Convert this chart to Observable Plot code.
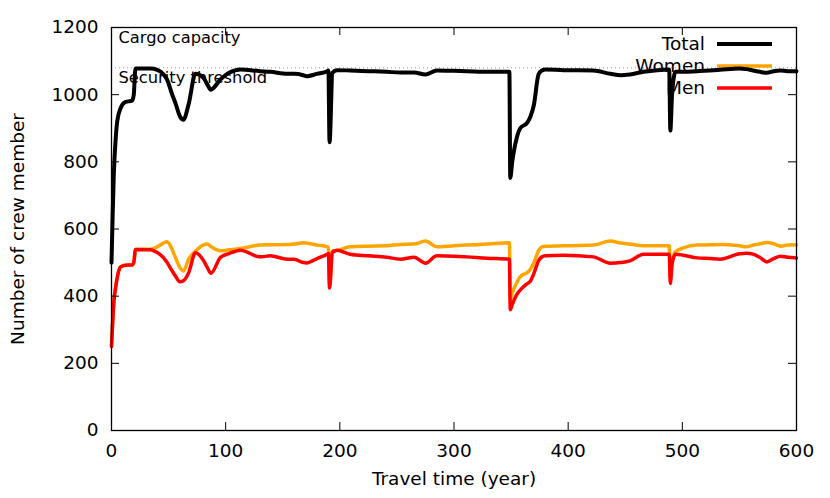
<!DOCTYPE html>
<html>
<head>
<meta charset="utf-8">
<script src="https://cdn.jsdelivr.net/npm/d3@7"></script>
<script src="https://cdn.jsdelivr.net/npm/@observablehq/plot@0.6"></script>
<style>
  html, body { margin: 0; padding: 0; background: #ffffff; }
  #chart svg { display: block; }
</style>
</head>
<body>
<div id="chart"></div>
<script>
// ---- data ----
const years = [0, 1, 2, 3.7, 5, 8, 12, 18, 19.5, 21, 34, 40, 45.5, 48.7, 53, 56, 60, 63, 67.6, 73.5,
  80.6, 84, 87, 95.4, 103, 113, 130, 139, 154, 160, 168, 171, 180, 189, 190, 191, 193.5, 197.5, 209, 225,
  241, 253, 265, 275, 285, 300, 311, 329, 348.5, 349.3, 351, 355, 358, 364, 367, 370, 374, 377, 380, 396,
  422, 437, 446, 454, 466, 478, 488.5, 489.5, 491, 494, 501, 513, 524, 533, 550, 556, 562, 568, 574, 580,
  586, 592, 600];
const total = [500, 640, 760, 870, 920, 960, 978, 982, 1000, 1078, 1078, 1074, 1061, 1045, 1002, 975, 935, 925, 972, 1062,
  1050, 1030, 1015, 1045, 1065, 1075, 1070, 1068, 1062, 1062, 1058, 1055, 1062, 1070, 1072, 858, 1065, 1073, 1072, 1070,
  1068, 1066, 1066, 1060, 1072, 1071, 1070, 1068, 1068, 752, 800, 872, 900, 916, 935, 970, 1060, 1072, 1075, 1073,
  1072, 1062, 1058, 1060, 1068, 1073, 1075, 893, 1000, 1068, 1068, 1070, 1072, 1074, 1078, 1076, 1072, 1068, 1065, 1070,
  1072, 1070, 1070];
const women = [252, 320, 380, 428, 455, 487, 492, 493, 500, 539, 540, 547, 558, 562, 540, 515, 485, 475, 510, 534,
  553, 555, 548, 535, 538, 542, 552, 553, 554, 555, 559, 558, 552, 547, 545, 435, 535, 536, 547, 549,
  550, 554, 555, 564, 547, 550, 552, 555, 559, 390, 410, 440, 458, 470, 480, 500, 535, 547, 549, 550,
  552, 564, 558, 555, 550, 550, 550, 455, 500, 532, 544, 552, 553, 554, 550, 547, 552, 556, 560, 556,
  549, 552, 553];
const men = [250, 320, 380, 427, 455, 487, 492, 493, 500, 539, 538, 530, 515, 500, 476, 460, 443, 446, 470, 529,
  506, 485, 468, 515, 527, 537, 517, 520, 510, 510, 500, 499, 512, 525, 527, 424, 530, 537, 525, 520,
  516, 510, 516, 498, 520, 519, 517, 513, 510, 360, 375, 405, 418, 437, 445, 468, 505, 517, 520, 522,
  517, 498, 500, 505, 525, 525, 525, 438, 495, 525, 522, 514, 512, 510, 526, 528, 525, 515, 502, 512,
  519, 516, 514];

const seriesNames = ["Total", "Women", "Men"];
const seriesColors = ["#000000", "#ffa500", "#ff0000"];
const seriesWidths = [4, 3.5, 3.5];
const xTicks = [0, 100, 200, 300, 400, 500, 600];
const yTicks = [0, 200, 400, 600, 800, 1000, 1200];
const thresholdLabels = ["Cargo capacity", "Security threshold"];
const thresholdValues = [1200, 1080];
const xLabel = "Travel time (year)";
const yLabel = "Number of crew member";

// ---- build tables ----
const seriesValues = [total, women, men];
const rows = [];
seriesNames.forEach((name, s) => {
  years.forEach((yr, i) => rows.push({series: name, year: yr, value: seriesValues[s][i]}));
});
const thresholds = thresholdLabels.map((label, i) => ({label, value: thresholdValues[i]}));

const W = 830, H = 498;
const mL = 111, mR = 34, mT = 27, mB = 68;
const frameH = H - mT - mB;
const frameW = W - mL - mR;
const tickLen = 8;
const FS = 18.5;

function legendMark(index, scales, values, dims) {
  const g = d3.create("svg:g")
    .attr("font-family", "DejaVu Sans")
    .attr("font-size", FS);
  const right = dims.width - dims.marginRight;
  seriesNames.forEach((name, i) => {
    const y = dims.marginTop + 17 + i * 22;
    g.append("text")
      .attr("x", right - 91).attr("y", y)
      .attr("dy", "0.35em")
      .attr("text-anchor", "end")
      .attr("fill", "#000")
      .text(name);
    g.append("line")
      .attr("x1", right - 79).attr("x2", right - 24)
      .attr("y1", y).attr("y2", y)
      .attr("stroke", seriesColors[i])
      .attr("stroke-width", seriesWidths[i]);
  });
  return g.node();
}

const chart = Plot.plot({
  width: W,
  height: H,
  marginLeft: mL,
  marginRight: mR,
  marginTop: mT,
  marginBottom: mB,
  style: {fontFamily: "DejaVu Sans", fontSize: FS + "px", background: "#ffffff", color: "#000000", overflow: "visible"},
  x: {domain: [0, 600]},
  y: {domain: [0, 1200]},
  color: {domain: seriesNames, range: seriesColors},
  marks: [
    Plot.ruleY(thresholds, {y: "value", stroke: "#9a9a9a", strokeWidth: 1, strokeDasharray: "1,3"}),
    Plot.text(thresholds, {y: "value", text: "label", frameAnchor: "left", textAnchor: "start",
      dx: 7, dy: 10, fontSize: 16.3, fill: "#000"}),
    legendMark,
    Plot.line(rows, {x: "year", y: "value", z: "series", stroke: "series",
      strokeWidth: d => seriesWidths[seriesNames.indexOf(d.series)],
      curve: "monotone-x", strokeLinejoin: "round"}),
    Plot.frame({stroke: "#000", strokeWidth: 1.3}),
    // inward ticks on all four sides
    Plot.ruleX(xTicks, {x: d => d, insetTop: frameH - tickLen, stroke: "#000", strokeWidth: 1}),
    Plot.ruleX(xTicks, {x: d => d, insetBottom: frameH - tickLen, stroke: "#000", strokeWidth: 1}),
    Plot.ruleY(yTicks, {y: d => d, insetRight: frameW - tickLen, stroke: "#000", strokeWidth: 1}),
    Plot.ruleY(yTicks, {y: d => d, insetLeft: frameW - tickLen, stroke: "#000", strokeWidth: 1}),
    Plot.axisX({ticks: xTicks, tickSize: 0, tickPadding: 13, tickFormat: d3.format("d"), label: null, fontSize: FS}),
    Plot.axisY({ticks: yTicks, tickSize: 0, tickPadding: 13, tickFormat: d3.format("d"), label: null, fontSize: FS}),
    Plot.text([xLabel], {text: d => d, frameAnchor: "bottom", dy: 54, textAnchor: "middle", fontSize: FS, fill: "#000"}),
    Plot.text([yLabel], {text: d => d, frameAnchor: "left", dx: -93, rotate: -90, textAnchor: "middle", fontSize: FS, fill: "#000"})
  ]
});

document.getElementById("chart").appendChild(chart);
</script>
</body>
</html>
